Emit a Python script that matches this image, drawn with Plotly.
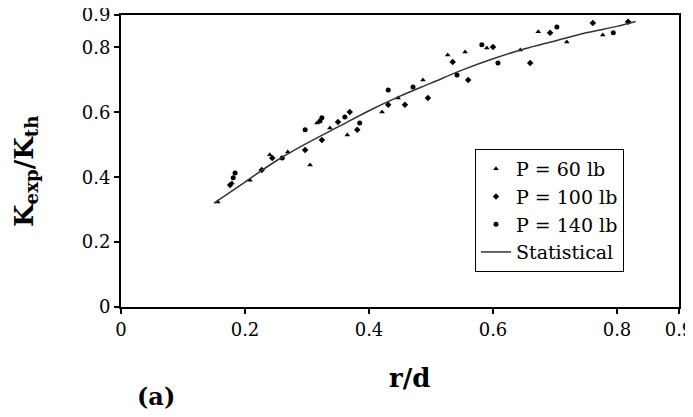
import plotly.graph_objects as go

# Experimental points (r/d, Kexp/Kth)
x60 = [0.156, 0.179, 0.208, 0.240, 0.269, 0.305, 0.316, 0.337, 0.365, 0.421, 0.447, 0.487, 0.527, 0.555, 0.590, 0.644, 0.673, 0.719, 0.777]
y60 = [0.324, 0.382, 0.391, 0.469, 0.478, 0.438, 0.567, 0.552, 0.530, 0.601, 0.644, 0.700, 0.777, 0.786, 0.798, 0.792, 0.848, 0.817, 0.838]

x100 = [0.176, 0.227, 0.244, 0.297, 0.324, 0.350, 0.381, 0.369, 0.431, 0.458, 0.495, 0.535, 0.560, 0.600, 0.660, 0.692, 0.761, 0.818]
y100 = [0.376, 0.422, 0.459, 0.484, 0.515, 0.570, 0.546, 0.601, 0.623, 0.623, 0.644, 0.755, 0.700, 0.801, 0.752, 0.845, 0.875, 0.879]

x140 = [0.181, 0.184, 0.260, 0.297, 0.321, 0.324, 0.361, 0.385, 0.431, 0.471, 0.542, 0.582, 0.608, 0.703, 0.794]
y140 = [0.398, 0.413, 0.459, 0.546, 0.573, 0.583, 0.586, 0.567, 0.669, 0.678, 0.715, 0.808, 0.752, 0.863, 0.845]

# Statistical curve
xs = [0.15, 0.20, 0.25, 0.30, 0.35, 0.40, 0.45, 0.50, 0.55, 0.60, 0.65, 0.70, 0.75, 0.80, 0.83]
ys = [0.32, 0.385, 0.45, 0.505, 0.555, 0.605, 0.65, 0.69, 0.73, 0.765, 0.795, 0.82, 0.845, 0.865, 0.88]

tick_vals = [0, 0.2, 0.4, 0.6, 0.8, 0.9]
tick_text = ["0", "0.2", "0.4", "0.6", "0.8", "0.9"]

serif = "DejaVu Serif"

# plot area in page pixels: x 121..679, y 15..307 (page body has an 8px margin)
def px(p):
    return (p - 121) / 558

def py(p):
    return (307 - p) / 292

fig = go.Figure()
fig.add_trace(go.Scatter(x=x60, y=y60, mode="markers", name="P = 60 lb",
                         marker=dict(symbol="triangle-up", size=5, color="black")))
fig.add_trace(go.Scatter(x=x100, y=y100, mode="markers", name="P = 100 lb",
                         marker=dict(symbol="diamond", size=5, color="black")))
fig.add_trace(go.Scatter(x=x140, y=y140, mode="markers", name="P = 140 lb",
                         marker=dict(symbol="circle", size=5, color="black")))
fig.add_trace(go.Scatter(x=xs, y=ys, mode="lines", name="Statistical",
                         line=dict(color="#333333", width=1.5, shape="spline")))

axis_common = dict(showgrid=False, zeroline=False, showline=True, linecolor="black",
                   linewidth=2, mirror=True, ticks="outside", ticklen=5, tickwidth=2,
                   tickcolor="black", tickfont=dict(family=serif, size=18, color="black"),
                   tickmode="array", tickvals=tick_vals, ticktext=tick_text,
                   ticklabeloverflow="allow", automargin=False)

fig.update_layout(
    width=693, height=417,
    margin=dict(l=113, r=22, t=7, b=118),
    plot_bgcolor="white", paper_bgcolor="white",
    xaxis=dict(range=[0, 0.9], **axis_common),
    yaxis=dict(range=[0, 0.9], **axis_common),
    showlegend=True,
    legend=dict(x=px(475), y=py(149), xanchor="left", yanchor="top",
                bordercolor="black", borderwidth=1, bgcolor="white",
                font=dict(family=serif, size=19, color="black"),
                itemwidth=30, tracegroupgap=0),
    annotations=[
        dict(text="<b>K<sub>exp</sub>/K<sub>th</sub></b>", xref="paper", yref="paper",
             x=px(25), y=py(171), xanchor="center", yanchor="middle", textangle=-90,
             showarrow=False, font=dict(family=serif, size=26, color="black")),
        dict(text="<b>r/d</b>", xref="paper", yref="paper",
             x=px(409), y=py(378), xanchor="center", yanchor="middle",
             showarrow=False, font=dict(family=serif, size=26, color="black")),
        dict(text="<b>(a)</b>", xref="paper", yref="paper",
             x=px(156), y=py(396), xanchor="center", yanchor="middle",
             showarrow=False, font=dict(family=serif, size=24, color="black")),
    ],
)

fig.write_html("out.html")
